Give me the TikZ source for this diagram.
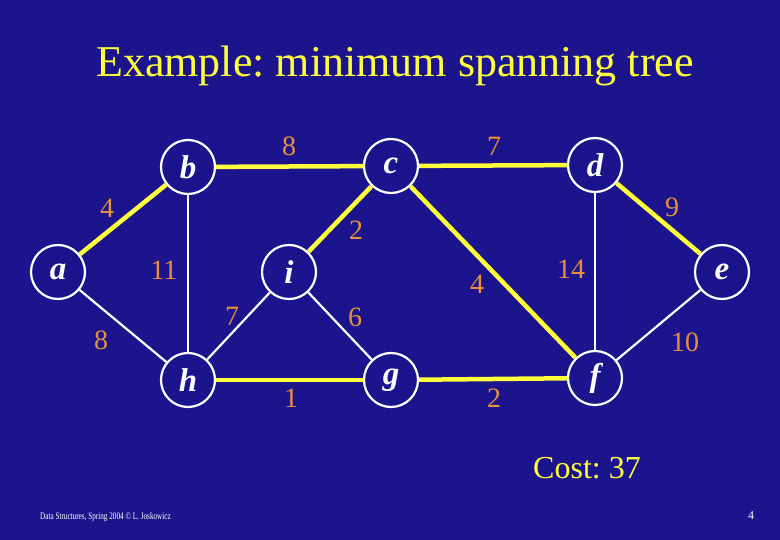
\documentclass[tikz,border=0pt]{standalone}
\usepackage{fontspec}
\setmainfont{Liberation Serif}
\usepackage{tikz}
\definecolor{slideblue}{RGB}{27,20,140}
\definecolor{wtorange}{RGB}{232,144,58}
\definecolor{treeyellow}{RGB}{255,255,60}
\tikzset{
  vert/.style={circle, draw=white, line width=2.2pt, minimum size=54pt, inner sep=0pt,
    text=white, font=\fontsize{33}{33}\selectfont\bfseries\itshape},
  edge/.style={white, line width=2.2pt},
  mst/.style={treeyellow, line width=4.5pt},
  wt/.style={text=wtorange, font=\fontsize{28}{28}\selectfont, inner sep=0pt}
}
\frenchspacing
\begin{document}
\begin{tikzpicture}[x=1pt, y=-1pt]
\fill[slideblue] (0,0) rectangle (780,540);
\useasboundingbox (0,0) rectangle (780,540);
\node[text=treeyellow, font=\fontsize{44}{44}\selectfont] (title) at (395,66) {Example: minimum spanning tree};
%
\node[vert] (a) at (58,272) {a};
\node[vert] (b) at (188,167) {b};
\node[vert] (c) at (391,166) {c};
\node[vert] (d) at (595,165) {d};
\node[vert] (e) at (722,272) {e};
\node[vert] (i) at (289,272) {i};
\node[vert] (h) at (188,380) {h};
\node[vert] (g) at (391,380) {g};
\node[vert] (f) at (595,378) {f};
%
\draw[edge] (b) -- (h);
\draw[edge] (a) -- (h);
\draw[edge] (h) -- (i);
\draw[edge] (i) -- (g);
\draw[edge] (d) -- (f);
\draw[edge] (e) -- (f);
%
\draw[mst] (a) -- (b);
\draw[mst] (b) -- (c);
\draw[mst] (c) -- (i);
\draw[mst] (c) -- (d);
\draw[mst] (c) -- (f);
\draw[mst] (d) -- (e);
\draw[mst] (h) -- (g);
\draw[mst] (g) -- (f);
%
\node[wt] (wab) at (107,208) {4};
\node[wt] (wbc) at (289,146) {8};
\node[wt] (wcd) at (494,146) {7};
\node[wt] (wde) at (672,207) {9};
\node[wt] (wci) at (356,230) {2};
\node[wt] (wbh) at (164,270) {11};
\node[wt] (wdf) at (571,269) {14};
\node[wt] (wcf) at (477,284) {4};
\node[wt] (whi) at (232,316) {7};
\node[wt] (wig) at (355,317) {6};
\node[wt] (wah) at (101,340) {8};
\node[wt] (wef) at (685,342) {10};
\node[wt] (whg) at (291,398) {1};
\node[wt] (wgf) at (494,398) {2};
%
\node[text=treeyellow, font=\fontsize{32}{32}\selectfont] (cost) at (587,468) {Cost: 37};
\node[text=white, font=\fontsize{10}{10}\selectfont, anchor=west, inner sep=0pt, xscale=0.72] (foot) at (40,517) {Data Structures,\ Spring 2004 \textcopyright\ L. Joskowicz};
\node[text=white, font=\fontsize{12}{12}\selectfont] (page) at (751,516) {4};
\end{tikzpicture}
\end{document}
